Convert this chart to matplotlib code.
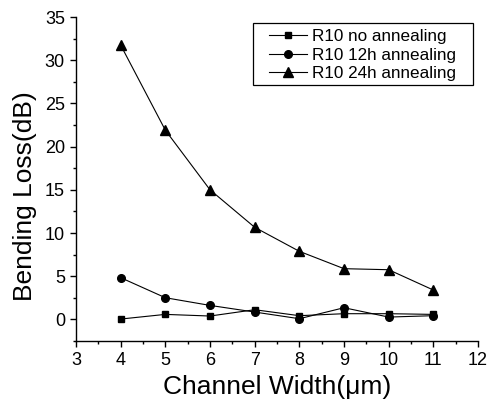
import matplotlib
matplotlib.use("Agg")
import matplotlib.pyplot as plt
from matplotlib.ticker import MultipleLocator
from matplotlib.patches import Rectangle

plt.rcParams['font.family'] = ['Liberation Sans', 'DejaVu Sans']

width = [4, 5, 6, 7, 8, 9, 10, 11]
no_anneal = [0.04, 0.58, 0.39, 1.12, 0.43, 0.66, 0.66, 0.58]
anneal_12h = [4.83, 2.51, 1.62, 0.85, 0.08, 1.35, 0.27, 0.43]
anneal_24h = [31.75, 21.9, 15.0, 10.66, 7.88, 5.87, 5.75, 3.4]

W, H = 488, 403
fig = plt.figure(figsize=(W / 100, H / 100), dpi=100)
ax = fig.add_axes([76 / W, 62 / H, 402 / W, 324 / H])

ax.plot(width, no_anneal, '-s', color='black', lw=0.8, ms=5, label='R10 no annealing')
ax.plot(width, anneal_12h, '-o', color='black', lw=0.8, ms=5.5, label='R10 12h annealing')
ax.plot(width, anneal_24h, '-^', color='black', lw=0.8, ms=6.5, label='R10 24h annealing')

ax.set_xlim(3, 12)
ax.set_ylim(-2.5, 35)
ax.xaxis.set_major_locator(MultipleLocator(1))
ax.xaxis.set_minor_locator(MultipleLocator(0.5))
ax.yaxis.set_major_locator(MultipleLocator(5))
ax.yaxis.set_minor_locator(MultipleLocator(2.5))
ax.spines['top'].set_visible(False)
ax.spines['right'].set_visible(False)
for s in ('left', 'bottom'):
    ax.spines[s].set_linewidth(1.0)
ax.tick_params(which='major', direction='out', length=4.5, width=1, labelsize=13)
ax.tick_params(which='minor', direction='out', length=2.5, width=1)

ax.set_xlabel('Channel Width(\u03bcm)', fontsize=19, labelpad=4)
ax.set_ylabel('Bending Loss(dB)', fontsize=19)
ax.yaxis.set_label_coords(-0.097, 0.447)

leg = ax.legend(loc='center left', bbox_to_anchor=(269 / W, (H - 55) / H),
                bbox_transform=fig.transFigure, fontsize=12.3, frameon=False,
                handlelength=2.2, handletextpad=0.3, borderpad=0, borderaxespad=0,
                labelspacing=0.2)
fig.patches.append(Rectangle((253 / W, (H - 85) / H), 220 / W, 62 / H,
                             transform=fig.transFigure, fill=False,
                             edgecolor='black', lw=0.9))

fig.savefig('out.png', dpi=100)
